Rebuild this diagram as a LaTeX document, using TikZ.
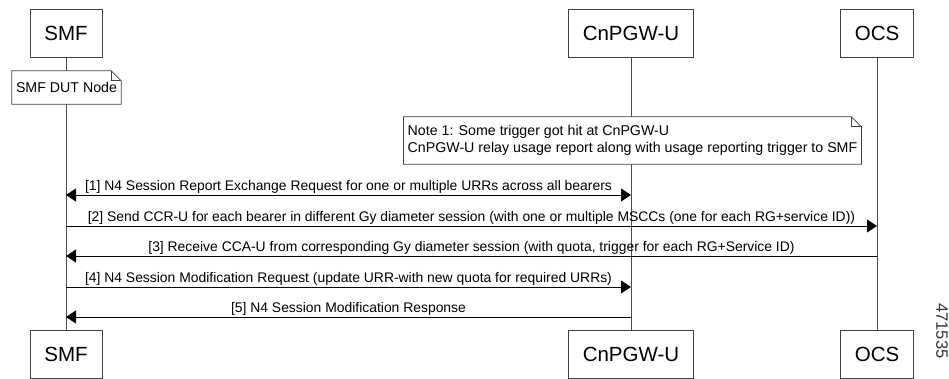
\documentclass[tikz,border=0pt]{standalone}
\usepackage{fontspec}
\setmainfont{Liberation Sans}
\usetikzlibrary{positioning, arrows.meta}

\begin{document}
\begin{tikzpicture}[x=1pt, y=-1pt, node distance=273pt,
    actor/.style={draw=black!75, line width=0.9pt, minimum width=72pt, minimum height=48pt, inner xsep=14pt, font=\fontsize{20.5}{24}\selectfont},
    note/.style={minimum height=33pt, inner xsep=4pt, align=left, font=\fontsize{14.2}{17}\selectfont},
    life/.style={draw=black!70, line width=0.8pt},
    msg/.style={line width=0.8pt, -{Triangle[length=10pt,width=13pt]}},
    lbl/.style={above, inner sep=1pt, font=\fontsize{13.9}{16}\selectfont}]
    \useasboundingbox (0,0) rectangle (949,379);

    \node[actor] (smf) at (66,33) {SMF};
    \node[actor] (upf) at (631,33) {CnPGW-U};
    \node[actor] (ocs) at (877,33) {OCS};
    \node[actor] (smfb) [below=of smf] {SMF};
    \node[actor] (upfb) [below=of upf] {CnPGW-U};
    \node[actor] (ocsb) [below=of ocs] {OCS};

    % lifelines
    \path[life] (smf) -- (smfb);
    \path[life] (upf) -- (upfb);
    \path[life] (ocs) -- (ocsb);

    % notes
    \node[note] (dut) at (66.5,87.5) {SMF DUT Node};
    \node[note, minimum height=47pt] (note1) at (632.5,140.5)
        {Note 1: Some trigger got hit at CnPGW-U\\CnPGW-U relay usage report along with usage reporting trigger to SMF};
    \foreach \n in {dut, note1} {
        \draw[fill=white, draw=black!75, line width=0.7pt] (\n.south west) -- (\n.north west)
            -- ([xshift=-10pt]\n.north east) -- ([yshift=-10pt]\n.north east) -- (\n.south east) -- cycle;
        \draw[draw=black!75, line width=0.7pt] ([xshift=-10pt]\n.north east) -- ([xshift=-10pt,yshift=-10pt]\n.north east)
            -- ([yshift=-10pt]\n.north east);
    }
    \node[note] at (dut) {SMF DUT Node};
    \node[note, minimum height=47pt] at (note1)
        {Note 1: Some trigger got hit at CnPGW-U\\CnPGW-U relay usage report along with usage reporting trigger to SMF};

    % messages
    \coordinate (m1) at (0,195);
    \coordinate (m2) at (0,226);
    \coordinate (m3) at (0,256);
    \coordinate (m4) at (0,287);
    \coordinate (m5) at (0,317);
    \draw[msg, {Triangle[length=10pt,width=13pt]}-{Triangle[length=10pt,width=13pt]}] (smf |- m1) -- node[lbl] {[1] N4 Session Report Exchange Request for one or multiple URRs across all bearers} (upf |- m1);
    \draw[msg] (smf |- m2) -- node[lbl] {[2] Send CCR-U for each bearer in different Gy diameter session (with one or multiple MSCCs (one for each RG+service ID))} (ocs |- m2);
    \draw[msg] (ocs |- m3) -- node[lbl] {[3] Receive CCA-U from corresponding Gy diameter session (with quota, trigger for each RG+Service ID)} (smf |- m3);
    \draw[msg] (smf |- m4) -- node[lbl] {[4] N4 Session Modification Request (update URR-with new quota for required URRs)} (upf |- m4);
    \draw[msg] (upf |- m5) -- node[lbl] {[5] N4 Session Modification Response} (smf |- m5);

    \node[rotate=-90, text=black!80, font=\fontsize{16.5}{18}\selectfont] (fig) at (942,331) {471535};
\end{tikzpicture}
\end{document}
